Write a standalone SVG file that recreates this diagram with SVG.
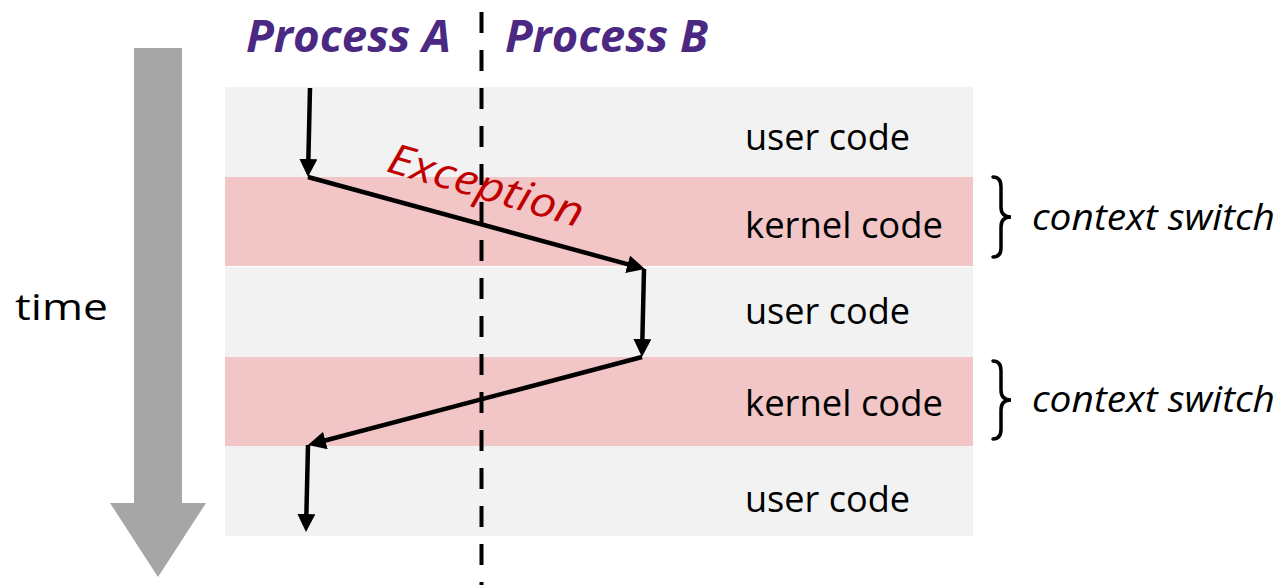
<svg xmlns="http://www.w3.org/2000/svg" width="1281" height="585" viewBox="0 0 1281 585">
  <style>
    .band-user { fill: #f2f2f2; }
    .band-kernel { fill: #f2c6c6; }
    .label { font-family: "Open Sans", "Liberation Sans", sans-serif; font-size: 36px; fill: #000; }
    .proc { font-family: "Open Sans", "Liberation Sans", sans-serif; font-size: 44px; font-weight: bold; font-style: italic; fill: #4b2882; }
    .ctx { font-family: "Open Sans", "Liberation Sans", sans-serif; font-size: 37px; font-style: italic; fill: #000; }
    .flow { stroke: #000; stroke-width: 4.5; fill: none; marker-end: url(#head); }
    .brace { stroke: #000; stroke-width: 3.5; fill: none; stroke-linecap: round; }
  </style>
  <defs>
    <marker id="head" viewBox="0 0 18 18" refX="12" refY="9" markerWidth="18" markerHeight="18" markerUnits="userSpaceOnUse" orient="auto">
      <path d="M0,0 L18,9 L0,18 z" fill="#000"/>
    </marker>
  </defs>

  <g id="time-axis">
    <polygon points="134,48 182,48 182,503 206,503 158,577 110,503 134,503" fill="#a6a6a6"/>
    <text class="label" x="15" y="320" font-size="44" textLength="93" lengthAdjust="spacingAndGlyphs">time</text>
  </g>

  <g id="band-user-1">
    <rect class="band-user" x="225" y="87" width="748" height="90"/>
    <text class="label" x="745" y="150" textLength="165" lengthAdjust="spacingAndGlyphs">user code</text>
  </g>
  <g id="band-kernel-1">
    <rect class="band-kernel" x="225" y="177" width="748" height="89"/>
    <text class="label" x="745" y="238" textLength="198" lengthAdjust="spacingAndGlyphs">kernel code</text>
  </g>
  <g id="band-user-2">
    <rect class="band-user" x="225" y="267" width="748" height="90"/>
    <text class="label" x="745" y="324" textLength="165" lengthAdjust="spacingAndGlyphs">user code</text>
  </g>
  <g id="band-kernel-2">
    <rect class="band-kernel" x="225" y="357" width="748" height="89"/>
    <text class="label" x="745" y="416" textLength="198" lengthAdjust="spacingAndGlyphs">kernel code</text>
  </g>
  <g id="band-user-3">
    <rect class="band-user" x="225" y="446" width="748" height="90"/>
    <text class="label" x="745" y="512" textLength="165" lengthAdjust="spacingAndGlyphs">user code</text>
  </g>

  <g id="process-a">
    <text class="proc" x="246" y="52" textLength="205" lengthAdjust="spacingAndGlyphs">Process A</text>
  </g>
  <g id="process-b">
    <text class="proc" x="505" y="52" textLength="203" lengthAdjust="spacingAndGlyphs">Process B</text>
  </g>

  <g id="divider">
    <line x1="481.5" y1="12" x2="481.5" y2="585" stroke="#000" stroke-width="4" stroke-dasharray="21 17"/>
  </g>

  <g id="connectors">
    <path class="flow" d="M310,88 L308.1,171"/>
    <path class="flow" d="M308,177 L639.2,267.4"/>
    <path class="flow" d="M644,269 L642.1,351"/>
    <path class="flow" d="M642,357 L313.8,443.5"/>
    <path class="flow" d="M308,445 L306.1,526"/>
  </g>

  <g id="exception-label">
    <text transform="translate(385,171) rotate(16.3)" font-family="Open Sans, Liberation Sans, sans-serif" font-size="42" font-style="italic" fill="#c00000" textLength="202" lengthAdjust="spacingAndGlyphs">Exception</text>
  </g>

  <g id="context-switch-1">
    <path class="brace" d="M993,177 Q1001,177 1001,187 L1001,207 Q1001,217 1011,217 Q1001,217 1001,227 L1001,248 Q1001,257 993,257"/>
    <text class="ctx" x="1032" y="230" textLength="243" lengthAdjust="spacingAndGlyphs">context switch</text>
  </g>
  <g id="context-switch-2">
    <path class="brace" d="M993,361 Q1001,361 1001,371 L1001,390 Q1001,400 1011,400 Q1001,400 1001,410 L1001,429 Q1001,439 993,439"/>
    <text class="ctx" x="1032" y="412" textLength="243" lengthAdjust="spacingAndGlyphs">context switch</text>
  </g>
</svg>
